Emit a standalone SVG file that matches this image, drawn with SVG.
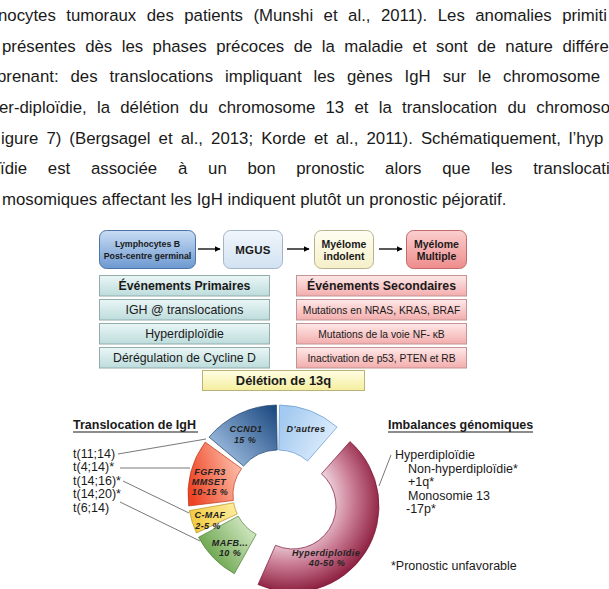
<svg xmlns="http://www.w3.org/2000/svg" width="609" height="589" viewBox="0 0 609 589">
<style>
.para{font-family:"Liberation Sans",Arial,sans-serif;font-size:16.8px;fill:#1a1a1a}
.fb{font-family:"Liberation Sans",Arial,sans-serif;font-weight:bold;fill:#1a1a1a;text-anchor:middle}
.ev{font-family:"Liberation Sans",Arial,sans-serif;fill:#1a1a1a;text-anchor:middle}
.lbl{font-family:"Liberation Sans",Arial,sans-serif;font-weight:bold;font-style:italic;font-size:9px;letter-spacing:0.4px;fill:#222;text-anchor:middle}
.lst{font-family:"Liberation Sans",Arial,sans-serif;font-size:12.5px;fill:#1a1a1a}
.hd{font-family:"Liberation Sans",Arial,sans-serif;font-size:12.5px;font-weight:bold;fill:#1a1a1a}
.conn{stroke:#555;stroke-width:0.8;fill:none}
.arr{stroke:#000;stroke-width:1.3;fill:none}
.seg{stroke-width:0.7}
</style>
<defs>
<marker id="ah" viewBox="0 0 10 10" refX="9" refY="5" markerWidth="6" markerHeight="6" markerUnits="userSpaceOnUse" orient="auto"><path d="M0,0 L10,5 L0,10 Z" fill="#000"/></marker>
<linearGradient id="gLymph" x1="0" y1="0" x2="0" y2="1"><stop offset="0" stop-color="#c8dcf3"/><stop offset="1" stop-color="#6d99d0"/></linearGradient>
<linearGradient id="gMgus" x1="0" y1="0" x2="0" y2="1"><stop offset="0" stop-color="#f0f6fc"/><stop offset="1" stop-color="#d2e2f2"/></linearGradient>
<linearGradient id="gInd" x1="0" y1="0" x2="0" y2="1"><stop offset="0" stop-color="#fffdf2"/><stop offset="1" stop-color="#f5f0c8"/></linearGradient>
<linearGradient id="gMult" x1="0" y1="0" x2="0" y2="1"><stop offset="0" stop-color="#fbcfcf"/><stop offset="1" stop-color="#ee8c8c"/></linearGradient>
<linearGradient id="gPrim" x1="0" y1="0" x2="0" y2="1"><stop offset="0" stop-color="#eaf6f6"/><stop offset="1" stop-color="#bddcdc"/></linearGradient>
<linearGradient id="gSec" x1="0" y1="0" x2="0" y2="1"><stop offset="0" stop-color="#fee8e8"/><stop offset="1" stop-color="#f4adad"/></linearGradient>
<linearGradient id="gDel" x1="0" y1="0" x2="0" y2="1"><stop offset="0" stop-color="#fffee4"/><stop offset="1" stop-color="#f5ee9e"/></linearGradient>
<linearGradient id="gCcnd" gradientUnits="userSpaceOnUse" x1="276" y1="410" x2="220" y2="462"><stop offset="0" stop-color="#1d4b82"/><stop offset="1" stop-color="#a3c1e3"/></linearGradient>
<linearGradient id="gAut" gradientUnits="userSpaceOnUse" x1="282" y1="420" x2="335" y2="445"><stop offset="0" stop-color="#a3caf0"/><stop offset="1" stop-color="#e2effc"/></linearGradient>
<radialGradient id="gHyp" gradientUnits="userSpaceOnUse" cx="290" cy="500" r="95" fx="280" fy="495"><stop offset="0.4" stop-color="#f8ecf1"/><stop offset="0.7" stop-color="#c97a93"/><stop offset="1" stop-color="#871738"/></radialGradient>
<linearGradient id="gFgf" gradientUnits="userSpaceOnUse" x1="190" y1="490" x2="240" y2="475"><stop offset="0" stop-color="#ee4424"/><stop offset="1" stop-color="#fcb7a2"/></linearGradient>
<linearGradient id="gCmaf" gradientUnits="userSpaceOnUse" x1="190" y1="525" x2="236" y2="508"><stop offset="0" stop-color="#f3c73a"/><stop offset="1" stop-color="#fcec9c"/></linearGradient>
<linearGradient id="gMafb" gradientUnits="userSpaceOnUse" x1="205" y1="565" x2="252" y2="530"><stop offset="0" stop-color="#5c9b3c"/><stop offset="1" stop-color="#cfe6bf"/></linearGradient>
</defs>

<g id="paragraph">
<text class="para" x="-2" y="21" word-spacing="5.8">nocytes tumoraux des patients (Munshi et al., 2011). Les anomalies primiti</text>
<text class="para" x="2" y="51.7" word-spacing="4.8">présentes dès les phases précoces de la maladie et sont de nature différe</text>
<text class="para" x="-3" y="82.3" word-spacing="7.3">prenant: des translocations impliquant les gènes IgH sur le chromosome</text>
<text class="para" x="-1" y="113" word-spacing="5.6">er-diploïdie, la délétion du chromosome 13 et la translocation du chromoso</text>
<text class="para" x="1" y="143.7" word-spacing="3.4">igure 7) (Bergsagel et al., 2013; Korde et al., 2011). Schématiquement, l’hyp</text>
<text class="para" x="0" y="174.3" word-spacing="16.1">ïdie est associée à un bon pronostic alors que les translocati</text>
<text class="para" x="2" y="205">mosomiques affectant les IgH indiquent plutôt un pronostic péjoratif.</text>
</g>

<g id="connectors">
<line class="arr" x1="198" y1="249" x2="220" y2="249" marker-end="url(#ah)"/>
<line class="arr" x1="287" y1="249" x2="309" y2="249" marker-end="url(#ah)"/>
<line class="arr" x1="379" y1="249" x2="402" y2="249" marker-end="url(#ah)"/>
<line class="conn" x1="118" y1="454" x2="206" y2="439"/>
<line class="conn" x1="120" y1="468" x2="190" y2="468"/>
<line class="conn" x1="123" y1="481" x2="189" y2="513"/>
<line class="conn" x1="120" y1="502" x2="200" y2="541"/>
<line class="conn" x1="379" y1="486" x2="391" y2="455"/>
</g>

<g id="lymphocytes">
<rect x="99.5" y="230.5" width="96" height="38" rx="7" fill="url(#gLymph)" stroke="#4d74a8"/>
<text class="fb" x="147.5" y="247" font-size="8.8">Lymphocytes B</text>
<text class="fb" x="147.5" y="258.5" font-size="8.8">Post-centre germinal</text>
</g>
<g id="mgus">
<rect x="223.5" y="230.5" width="59" height="38" rx="7" fill="url(#gMgus)" stroke="#a3b4c6"/>
<text class="fb" x="253" y="253.5" font-size="11.5" letter-spacing="0.3">MGUS</text>
</g>
<g id="indolent">
<rect x="314.5" y="230.5" width="59" height="38" rx="7" fill="url(#gInd)" stroke="#b8b38e"/>
<text class="fb" x="344" y="247.5" font-size="10.5">Myélome</text>
<text class="fb" x="344" y="260" font-size="10.5">indolent</text>
</g>
<g id="multiple">
<rect x="406.5" y="230.5" width="60" height="38" rx="7" fill="url(#gMult)" stroke="#c06a6a"/>
<text class="fb" x="436.5" y="247.5" font-size="10.5">Myélome</text>
<text class="fb" x="436.5" y="260" font-size="10.5">Multiple</text>
</g>

<g id="primaires">
<rect x="99.5" y="275.5" width="170" height="20.5" fill="url(#gPrim)" stroke="#93acac"/>
<text class="fb" x="184.5" y="290" font-size="12.3">Événements Primaires</text>
</g>
<g id="igh">
<rect x="99.5" y="299.5" width="170" height="20.5" fill="url(#gPrim)" stroke="#93acac"/>
<text class="ev" x="184.5" y="314" font-size="12.4">IGH @ translocations</text>
</g>
<g id="hyperdiploidie-box">
<rect x="99.5" y="323.5" width="170" height="20.5" fill="url(#gPrim)" stroke="#93acac"/>
<text class="ev" x="184.5" y="338" font-size="12.3">Hyperdiploïdie</text>
</g>
<g id="cycline">
<rect x="99.5" y="347.5" width="170" height="20.5" fill="url(#gPrim)" stroke="#93acac"/>
<text class="ev" x="184.5" y="362" font-size="12.3">Dérégulation de Cycline D</text>
</g>

<g id="secondaires">
<rect x="296.5" y="275.5" width="170" height="20.5" fill="url(#gSec)" stroke="#c29494"/>
<text class="fb" x="381.5" y="290" font-size="12.3">Événements Secondaires</text>
</g>
<g id="nras">
<rect x="296.5" y="299.5" width="170" height="20.5" fill="url(#gSec)" stroke="#c29494"/>
<text class="ev" x="381.5" y="313.5" font-size="10.3">Mutations en NRAS, KRAS, BRAF</text>
</g>
<g id="nfkb">
<rect x="296.5" y="323.5" width="170" height="20.5" fill="url(#gSec)" stroke="#c29494"/>
<text class="ev" x="381.5" y="337.5" font-size="10.3">Mutations de la voie NF- κB</text>
</g>
<g id="p53">
<rect x="296.5" y="347.5" width="170" height="20.5" fill="url(#gSec)" stroke="#c29494"/>
<text class="ev" x="381.5" y="361.5" font-size="10.3">Inactivation de p53, PTEN et RB</text>
</g>

<g id="deletion">
<rect x="202.5" y="370.5" width="162" height="20" fill="url(#gDel)" stroke="#bab278"/>
<text class="fb" x="283.5" y="385" font-size="12.9">Délétion de 13q</text>
</g>

<g id="translocation-list">
<text class="hd" x="73" y="429">Translocation de IgH</text>
<line x1="73" y1="432" x2="198" y2="432" stroke="#1a1a1a" stroke-width="1.1"/>
<text class="lst" x="73" y="457.5">t(11;14)</text>
<text class="lst" x="73" y="471">t(4;14)*</text>
<text class="lst" x="73" y="484.5">t(14;16)*</text>
<text class="lst" x="73" y="498">t(14;20)*</text>
<text class="lst" x="73" y="511.5">t(6;14)</text>
</g>

<g id="seg-ccnd1">
<path class="seg" d="M209.06,437.15 A90,90 0 0 1 276.43,405.01 L277.21,450.01 A45,45 0 0 0 243.53,466.07 Z" fill="url(#gCcnd)" stroke="#1d3f6a"/>
<text class="lbl" x="246" y="432">CCND1</text>
<text class="lbl" x="245" y="442.5">15 %</text>
</g>
<g id="seg-autres">
<path class="seg" d="M279.57,405.01 A90,90 0 0 1 337.05,427.08 L307.52,461.04 A45,45 0 0 0 278.79,450.01 Z" fill="url(#gAut)" stroke="#5f97d0"/>
<text class="lbl" x="306" y="432">D'autres</text>
</g>
<g id="seg-hyper">
<path class="seg" d="M349.98,441.59 A86,86 0 0 1 258.02,584.56 L275.51,545.28 A43,43 0 0 0 321.49,473.79 Z" fill="url(#gHyp)" stroke="#7a1431"/>
<text class="lbl" x="326" y="556">Hyperdiploïdie</text>
<text class="lbl" x="327" y="566">40-50 %</text>
</g>
<g id="seg-mafb">
<path class="seg" d="M234.37,573.71 A90,90 0 0 1 198.54,537.26 L238.27,516.13 A45,45 0 0 0 256.18,534.36 Z" fill="url(#gMafb)" stroke="#4d7f35"/>
<text class="lbl" x="230" y="546">MAFB...</text>
<text class="lbl" x="230" y="556">10 %</text>
</g>
<g id="seg-cmaf">
<path class="seg" d="M196.43,533.03 A90,90 0 0 1 189.37,510.62 L233.68,502.81 A45,45 0 0 0 237.22,514.02 Z" fill="url(#gCmaf)" stroke="#b5942a"/>
<text class="lbl" x="210" y="518">C-MAF</text>
<text class="lbl" x="208" y="528.5">2-5 %</text>
</g>
<g id="seg-fgfr3">
<path class="seg" d="M188.67,505.97 A90,90 0 0 1 205.19,442.10 L241.59,468.55 A45,45 0 0 0 233.34,500.49 Z" fill="url(#gFgf)" stroke="#c0391e"/>
<text class="lbl" x="210" y="475">FGFR3</text>
<text class="lbl" x="209" y="484.5">MMSET</text>
<text class="lbl" x="210" y="494.5">10-15 %</text>
</g>

<g id="imbalances-list">
<text class="hd" x="388" y="428.5">Imbalances génomiques</text>
<line x1="388" y1="432" x2="533" y2="432" stroke="#1a1a1a" stroke-width="1.1"/>
<text class="lst" x="395" y="459">Hyperdiploïdie</text>
<text class="lst" x="408" y="472.5">Non-hyperdiploïdie*</text>
<text class="lst" x="408" y="486">+1q*</text>
<text class="lst" x="408" y="499.5">Monosomie 13</text>
<text class="lst" x="406" y="513">-17p*</text>
<text class="lst" x="391" y="569.5">*Pronostic unfavorable</text>
</g>
</svg>
